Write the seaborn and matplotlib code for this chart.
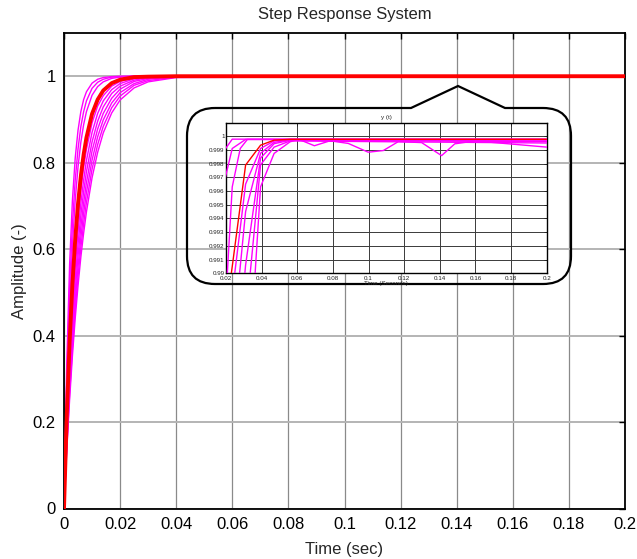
import numpy as np
import pandas as pd
import matplotlib
matplotlib.use("Agg")
import matplotlib.pyplot as plt
import seaborn as sns
from matplotlib.path import Path
from matplotlib.patches import PathPatch
from matplotlib.ticker import FuncFormatter

# ---------------- data: main step responses ----------------
t_main = [0, 0.001, 0.002, 0.003, 0.004, 0.005, 0.006, 0.007, 0.008, 0.010,
          0.012, 0.014, 0.017, 0.020, 0.025, 0.030, 0.040, 0.200]
main_magenta = {
    "m1": [0, 0.341, 0.565, 0.713, 0.811, 0.875, 0.918, 0.946, 0.964, 0.984, 0.993, 0.997, 0.999, 1.000, 1.000, 1.000, 1.000, 1.000],
    "m2": [0, 0.300, 0.510, 0.657, 0.760, 0.832, 0.883, 0.918, 0.943, 0.972, 0.986, 0.993, 0.998, 0.999, 1.000, 1.000, 1.000, 1.000],
    "m3": [0, 0.268, 0.465, 0.608, 0.713, 0.790, 0.847, 0.888, 0.918, 0.956, 0.976, 0.987, 0.995, 0.998, 1.000, 1.000, 1.000, 1.000],
    "m4": [0, 0.199, 0.359, 0.487, 0.589, 0.671, 0.736, 0.789, 0.831, 0.892, 0.931, 0.955, 0.977, 0.988, 0.996, 0.999, 1.000, 1.000],
    "m5": [0, 0.185, 0.335, 0.458, 0.558, 0.640, 0.706, 0.760, 0.805, 0.870, 0.914, 0.943, 0.969, 0.983, 0.994, 0.998, 1.000, 1.000],
    "m6": [0, 0.172, 0.314, 0.432, 0.530, 0.611, 0.678, 0.733, 0.779, 0.848, 0.896, 0.929, 0.960, 0.977, 0.991, 0.997, 1.000, 1.000],
    "m7": [0, 0.161, 0.296, 0.409, 0.504, 0.584, 0.651, 0.707, 0.754, 0.827, 0.878, 0.914, 0.949, 0.970, 0.988, 0.995, 0.999, 1.000],
    "m8": [0, 0.151, 0.280, 0.388, 0.481, 0.559, 0.626, 0.683, 0.731, 0.806, 0.860, 0.899, 0.938, 0.962, 0.983, 0.993, 0.999, 1.000],
    "m9": [0, 0.143, 0.265, 0.370, 0.460, 0.537, 0.603, 0.659, 0.708, 0.785, 0.842, 0.884, 0.927, 0.954, 0.979, 0.990, 0.998, 1.000],
    "m10": [0, 0.135, 0.252, 0.353, 0.440, 0.515, 0.581, 0.637, 0.686, 0.765, 0.824, 0.869, 0.915, 0.945, 0.973, 0.987, 0.997, 1.000],
}
main_red = [0, 0.217, 0.386, 0.519, 0.623, 0.705, 0.769, 0.819, 0.858, 0.913, 0.946, 0.967, 0.984, 0.992, 0.998, 0.999, 1.000, 1.000]

# ---------------- data: zoomed inset ----------------
inset_magenta = {
    "A": ([0.016, 0.0235, 0.2], [0.9984, 0.99978, 0.99978]),
    "B": ([0.016, 0.0235, 0.031, 0.2], [0.9950, 0.9991, 0.99976, 0.99976]),
    "C": ([0.0155, 0.0235, 0.028, 0.032, 0.2], [0.978, 0.9963, 0.9991, 0.99976, 0.99976]),
    "D": ([0.0155, 0.0235, 0.031, 0.0394, 0.047, 0.056, 0.2], [0.972, 0.9885, 0.9965, 0.9991, 0.99965, 0.99976, 0.99974]),
    "E": ([0.0155, 0.0235, 0.031, 0.0394, 0.047, 0.056, 0.2], [0.968, 0.9845, 0.9945, 0.99875, 0.99955, 0.99972, 0.99965]),
    "F": ([0.0155, 0.0235, 0.031, 0.0394, 0.047, 0.056, 0.2], [0.962, 0.980, 0.9906, 0.9984, 0.99945, 0.9997, 0.9996]),
    "G": ([0.0235, 0.031, 0.0394, 0.047, 0.056, 0.2], [0.975, 0.9865, 0.9979, 0.9992, 0.99965, 0.9995]),
    "H": ([0.0235, 0.031, 0.0394, 0.047, 0.056, 0.061, 0.0696, 0.0784, 0.0886, 0.0998,
           0.1083, 0.1167, 0.1298, 0.141, 0.1484, 0.16, 0.2],
          [0.965, 0.979, 0.9963, 0.99874, 0.99959, 0.99976, 0.9993, 0.99966, 0.99947, 0.99883,
           0.99895, 0.9996, 0.99953, 0.99858, 0.99944, 0.99965, 0.9992]),
}
inset_red = ([0.0155, 0.023, 0.031, 0.0394, 0.047, 0.056, 0.2],
             [0.975, 0.990, 0.99789, 0.99934, 0.99971, 0.99977, 0.99977])

x_ticks_main = [0, 0.02, 0.04, 0.06, 0.08, 0.1, 0.12, 0.14, 0.16, 0.18, 0.2]
y_ticks_main = [0, 0.2, 0.4, 0.6, 0.8, 1.0]
x_ticks_inset = [0.02, 0.04, 0.06, 0.08, 0.1, 0.12, 0.14, 0.16, 0.18, 0.2]
y_ticks_inset = [0.99, 0.991, 0.992, 0.993, 0.994, 0.995, 0.996, 0.997, 0.998, 0.999, 1.0]

# ---------------- build frames ----------------
df_main = pd.DataFrame(
    [(name, t, v) for name, vals in main_magenta.items() for t, v in zip(t_main, vals)],
    columns=["curve", "t", "y"])
df_main_red = pd.DataFrame({"t": t_main, "y": main_red})
df_in = pd.DataFrame(
    [(name, t, v) for name, (ts, vs) in inset_magenta.items() for t, v in zip(ts, vs)],
    columns=["curve", "t", "y"])
df_in_red = pd.DataFrame({"t": inset_red[0], "y": inset_red[1]})

sns.set_style("white")
plt.rcParams["font.family"] = ["Liberation Sans", "DejaVu Sans"]

MAG = "#FF00FF"
RED = "#FF0000"
W, H = 637, 559
fig = plt.figure(figsize=(W / 100, H / 100), dpi=100)
ax = fig.add_axes([64 / W, 1 - 508.5 / H, 561 / W, 475.5 / H])

sns.lineplot(data=df_main, x="t", y="y", units="curve", estimator=None,
             color=MAG, lw=1.0, ax=ax, zorder=3)
sns.lineplot(data=df_main_red, x="t", y="y", color=RED, lw=2.8, ax=ax, zorder=4)

ax.set_xlim(0, 0.2)
ax.set_ylim(0, 1.1)
ax.set_xticks(x_ticks_main)
ax.set_yticks(y_ticks_main)
fmt = FuncFormatter(lambda v, p: "%g" % v)
ax.xaxis.set_major_formatter(fmt)
ax.yaxis.set_major_formatter(fmt)
ax.tick_params(direction="in", length=4, width=1, top=True, right=True,
               labelsize=12, colors="black", pad=6)
ax.xaxis.grid(True, color="#8a8a8a", lw=0.9)
ax.yaxis.grid(True, color="#b4b4b4", lw=1.4)
ax.set_axisbelow(True)
for s in ax.spines.values():
    s.set_color("black")
    s.set_linewidth(1.3)
ax.set_title("Step Response System", fontsize=12, pad=10)
ax.set_xlabel("Time (sec)", fontsize=12, labelpad=7)
ax.set_ylabel("Amplitude (-)", fontsize=12, labelpad=4)

# ---------------- callout outline ----------------
L, R, T, B, r = 187, 571, 108, 284, 28
pts_px = [
    ((L + r, T), Path.MOVETO),
    ((411, T), Path.LINETO),
    ((458, 86), Path.LINETO),
    ((505, T), Path.LINETO),
    ((R - r, T), Path.LINETO),
    ((R, T), Path.CURVE3), ((R, T + r), Path.CURVE3),
    ((R, B - r), Path.LINETO),
    ((R, B), Path.CURVE3), ((R - r, B), Path.CURVE3),
    ((L + r, B), Path.LINETO),
    ((L, B), Path.CURVE3), ((L, B - r), Path.CURVE3),
    ((L, T + r), Path.LINETO),
    ((L, T), Path.CURVE3), ((L + r, T), Path.CURVE3),
]
verts = [(x / W, 1 - y / H) for (x, y), _ in pts_px]
codes = [c for _, c in pts_px]
callout = PathPatch(Path(verts, codes), transform=fig.transFigure, fill=False,
                    edgecolor="black", lw=1.6, zorder=5)
fig.add_artist(callout)

# ---------------- inset ----------------
axi = fig.add_axes([226 / W, 1 - 273.3 / H, 320.7 / W, 150.6 / H], zorder=6)
axi.set_facecolor("white")
sns.lineplot(data=df_in, x="t", y="y", units="curve", estimator=None,
             color=MAG, lw=1.0, ax=axi, zorder=3)
sns.lineplot(data=df_in_red, x="t", y="y", color=RED, lw=1.0, ax=axi, zorder=4)
axi.set_xlim(0.02, 0.2)
axi.set_ylim(0.99, 1.00098)
axi.set_xticks(x_ticks_inset)
axi.set_yticks(y_ticks_inset)
axi.xaxis.set_major_formatter(fmt)
axi.yaxis.set_major_formatter(fmt)
axi.tick_params(direction="in", length=2, width=0.6, top=True, right=True,
                labelsize=4.5, colors="#222222", pad=1)
axi.tick_params(axis="x", pad=2)
axi.grid(True, color="#3a3a3a", lw=0.7)
axi.set_axisbelow(True)
for s in axi.spines.values():
    s.set_color("black")
    s.set_linewidth(1.0)
axi.set_title("y (t)", fontsize=4.5, pad=3)
axi.set_xlabel("Time (Seconds)", fontsize=4.5, labelpad=0.3)
axi.set_ylabel("")

fig.savefig("out.png", dpi=100)
